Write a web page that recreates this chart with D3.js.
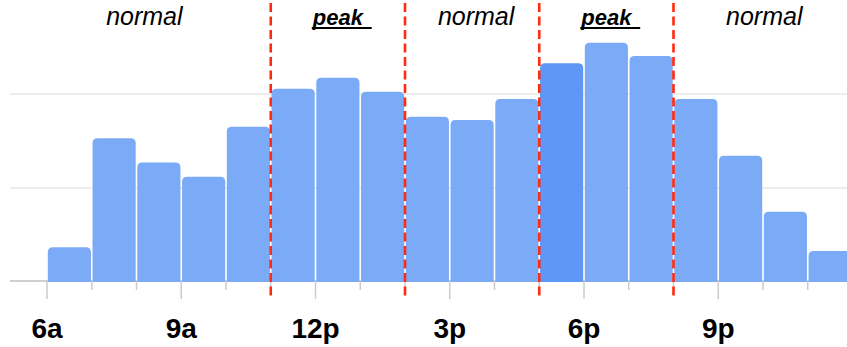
<!DOCTYPE html>
<html>
<head>
<meta charset="utf-8">
<script src="https://cdn.jsdelivr.net/npm/d3@7"></script>
<style>
  html, body { margin: 0; padding: 0; background: #fff; }
  svg { display: block; }
</style>
</head>
<body>
<svg id="chart" width="847" height="347"></svg>
<script>
// Visits per hour, starting at 6 a.m. (relative busyness, 100 = usual peak)
const hours = [6, 7, 8, 9, 10, 11, 12, 13, 14, 15, 16, 17, 18, 19, 20, 21, 22, 23];
const busyness = [18.5, 76.4, 63.5, 56, 82.6, 102.8, 108.7, 101.2, 87.9, 86.2, 97.3, 116.3, 127.3, 120.2, 97.3, 67.2, 37.4, 16.5];
const currentHour = 17;

// Axis labels
const tickHours = [6, 9, 12, 15, 18, 21];
const tickLabels = ["6a", "9a", "12p", "3p", "6p", "9p"];

// Gridline levels
const gridLevels = [50, 100];

// Period boundaries (hours) and the period names between them
const periodBreaks = [11, 14, 17, 20];
const periodNames = ["normal", "peak", "normal", "peak", "normal"];

const svg = d3.select("#chart");
const W = 847, H = 347;
const plotLeft = 10, plotRight = W;
const baseY = 282;

const x = d3.scaleLinear().domain([6, 24]).range([47, 852.5]);
const y = d3.scaleLinear().domain([0, 100]).range([baseY, 94]);

// Gridlines
svg.append("g").selectAll("line").data(gridLevels).join("line")
  .attr("x1", plotLeft).attr("x2", plotRight)
  .attr("y1", d => y(d)).attr("y2", d => y(d))
  .attr("stroke", "#ededed").attr("stroke-width", 2);

// Baseline
svg.append("line")
  .attr("x1", plotLeft).attr("x2", plotRight)
  .attr("y1", y(0) - 1).attr("y2", y(0) - 1)
  .attr("stroke", "#cfcfcf").attr("stroke-width", 2);

// Hour ticks below the baseline (longer at labelled hours)
const allTicks = d3.range(6, 24);
svg.append("g").selectAll("line").data(allTicks).join("line")
  .attr("x1", d => x(d)).attr("x2", d => x(d))
  .attr("y1", y(0)).attr("y2", d => tickHours.includes(d) ? y(0) + 17 : y(0) + 8)
  .attr("stroke", "#cccccc").attr("stroke-width", 1.5);

// Bars with rounded top corners
function barPath(x0, x1, yTop, yBot, r) {
  r = Math.min(r, (x1 - x0) / 2, yBot - yTop);
  return `M${x0},${yBot}V${yTop + r}Q${x0},${yTop} ${x0 + r},${yTop}` +
         `H${x1 - r}Q${x1},${yTop} ${x1},${yTop + r}V${yBot}Z`;
}
svg.append("g").selectAll("path").data(hours).join("path")
  .attr("d", (h, i) => barPath(x(h) + 0.8, x(h + 1) - 0.8, y(busyness[i]), y(0), 5))
  .attr("fill", h => h === currentHour ? "#5e97f6" : "#7baaf7");

// Dashed period separators
svg.append("g").selectAll("line").data(periodBreaks).join("line")
  .attr("x1", d => x(d)).attr("x2", d => x(d))
  .attr("y1", 3).attr("y2", 300)
  .attr("stroke", "#ff2a10").attr("stroke-width", 2.6)
  .attr("stroke-dasharray", "9,4.5");

// Period names, centred in each span
const edges = [x.invert(plotLeft), ...periodBreaks, x.invert(plotRight)];
const periods = periodNames.map((name, i) => ({ name, a: edges[i], b: edges[i + 1] }));
const pg = svg.append("g");
periods.forEach(p => {
  const cx = (x(p.a) + x(p.b)) / 2;
  if (p.name === "peak") {
    const t = pg.append("text")
      .attr("x", cx).attr("y", 24.5)
      .attr("text-anchor", "middle")
      .attr("font-family", "'Liberation Sans', Arial, sans-serif")
      .attr("font-style", "italic").attr("font-weight", "bold")
      .attr("font-size", 22).attr("fill", "#000")
      .text(p.name);
    const bb = t.node().getBBox();
    pg.append("line")
      .attr("x1", bb.x).attr("x2", bb.x + bb.width + 7)
      .attr("y1", 28).attr("y2", 28)
      .attr("stroke", "#000").attr("stroke-width", 2);
  } else {
    pg.append("text")
      .attr("x", cx + 4).attr("y", 25)
      .attr("text-anchor", "middle")
      .attr("font-family", "'Liberation Sans', Arial, sans-serif")
      .attr("font-style", "italic")
      .attr("font-size", 25).attr("fill", "#000")
      .text(p.name);
  }
});

// Hour labels
svg.append("g").selectAll("text").data(tickHours).join("text")
  .attr("x", d => x(d)).attr("y", 338)
  .attr("text-anchor", "middle")
  .attr("font-family", "'Liberation Sans', Arial, sans-serif")
  .attr("font-weight", "bold").attr("font-size", 28).attr("fill", "#000")
  .text((d, i) => tickLabels[i]);
</script>
</body>
</html>
